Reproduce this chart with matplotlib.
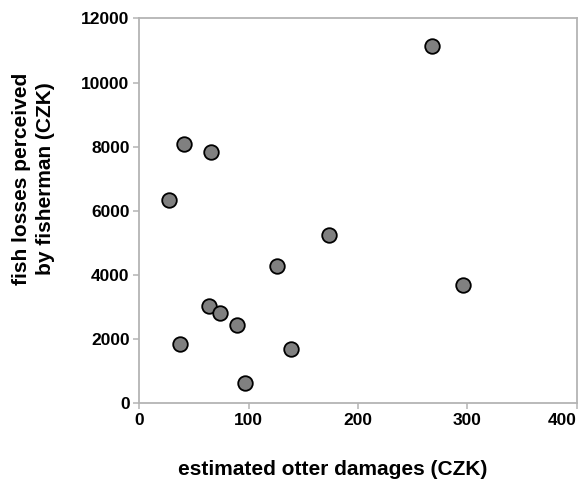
import numpy as np
import matplotlib.pyplot as plt

# estimated otter damages vs fish losses perceived by fisherman
otter_damages = [268, 41, 66, 27, 173, 126, 296, 64, 74, 89, 37, 139, 97]
fish_losses = [11150, 8070, 7840, 6340, 5260, 4270, 3680, 3030, 2800, 2430, 1840, 1680, 640]

xticks = [0, 100, 200, 300, 400]
yticks = [0, 2000, 4000, 6000, 8000, 10000, 12000]

plt.rcParams['font.family'] = ['Liberation Sans', 'DejaVu Sans']
plt.rcParams['font.weight'] = 'bold'

fig = plt.figure(figsize=(5.78, 4.83), dpi=100)
ax = fig.add_axes([0.241, 0.165, 0.757, 0.797])

ax.scatter(otter_damages, fish_losses, s=110, c='#808080', edgecolors='black',
           linewidths=1.3, zorder=3, clip_on=False)

ax.set_xlim(0, 400)
ax.set_ylim(0, 12000)
ax.set_xticks(xticks)
ax.set_yticks(yticks)

spine_col = '#b4b4b4'
for s in ax.spines.values():
    s.set_color(spine_col)
    s.set_linewidth(1.3)
ax.tick_params(axis='both', colors=spine_col, length=4, width=1.1, labelcolor='black',
               labelsize=12.5, pad=3)
for lab in ax.get_xticklabels() + ax.get_yticklabels():
    lab.set_fontweight('bold')
# last x label sits flush with the right edge
ax.get_xticklabels()[-1].set_horizontalalignment('right')

fig.text(0.575, 0.008, 'estimated otter damages (CZK)', ha='center', va='bottom',
         fontsize=15, fontweight='bold')
fig.text(0.058, 0.63, 'fish losses perceived\nby fisherman (CZK)', ha='center', va='center',
         rotation=90, fontsize=15, fontweight='bold', linespacing=1.3)

fig.savefig('out.png', dpi=100)
